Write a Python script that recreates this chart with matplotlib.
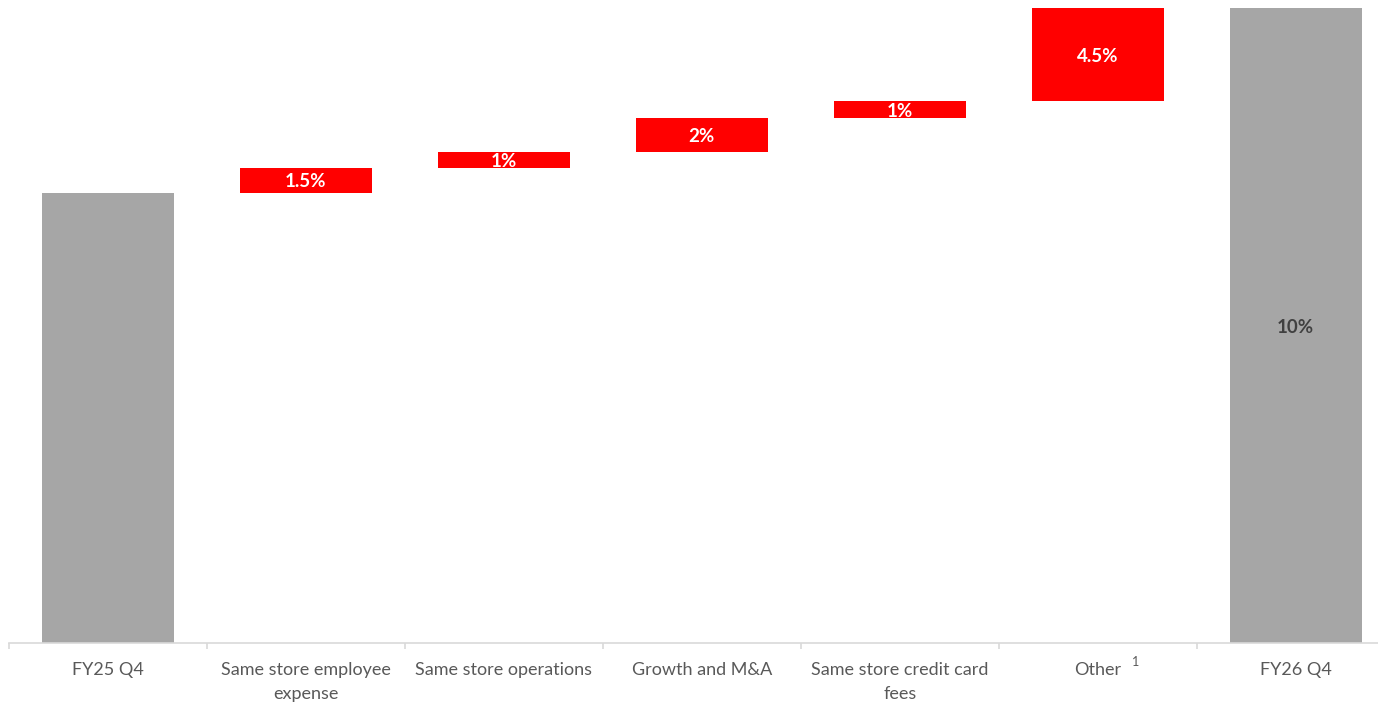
import matplotlib.pyplot as plt
import numpy as np
from matplotlib import transforms

# Waterfall data (heights, FY26 Q4 = 10)
categories = ["FY25 Q4", "Same store employee\nexpense", "Same store operations",
              "Growth and M&A", "Same store credit card\nfees", "Other", "FY26 Q4"]
start_value = 7.09
steps = [0.39, 0.25, 0.53, 0.27, 1.47]
end_value = 10.0
step_labels = ["1.5%", "1%", "2%", "1%", "4.5%"]
end_label = "10%"

GREY = "#a6a6a6"
RED = "#ff0000"
AXIS = "#d9d9d9"
TEXT = "#595959"

plt.rcParams['font.family'] = ['Lato', 'DejaVu Sans']

fig = plt.figure(figsize=(13.78, 7.06), dpi=100)
ax = fig.add_axes([9 / 1378, 63 / 706, 1385.6 / 1378, 635 / 706])

x = np.arange(len(categories))
width = 0.667

# Totals
ax.bar(x[0], start_value, width=width, color=GREY)
ax.bar(x[-1], end_value, width=width, color=GREY)

# Steps
bottoms = start_value + np.concatenate([[0], np.cumsum(steps)[:-1]])
ax.bar(x[1:-1], steps, bottom=bottoms, width=width, color=RED)
for xi, b, h, lab in zip(x[1:-1], bottoms, steps, step_labels):
    ax.text(xi, b + h / 2, lab, ha='center', va='center_baseline', color='white',
            fontsize=13.5, fontweight='bold')

ax.text(x[-1], end_value / 2, end_label, ha='center', va='center_baseline',
        color="#404040", fontsize=13.5, fontweight='bold')

ax.set_xlim(-0.5, len(categories) - 0.5)
ax.set_ylim(0, 10)

for s in ['top', 'right', 'left']:
    ax.spines[s].set_visible(False)
ax.spines['bottom'].set_color(AXIS)
ax.spines['bottom'].set_linewidth(1.2)
ax.set_yticks([])

ax.set_xticks(x)
ax.set_xticklabels(categories, fontsize=13, color=TEXT, linespacing=1.55)
ax.tick_params(axis='x', length=0, pad=14)
ax.set_xticks(np.arange(-0.5, len(categories), 1), minor=True)
ax.tick_params(axis='x', which='minor', length=4.5, color=AXIS, width=1.2)

# footnote marker next to "Other"
trans = transforms.blended_transform_factory(ax.transData, ax.transAxes)
ax.text(5.19, -0.03, "1", transform=trans, ha='center', va='center',
        fontsize=9, color=TEXT)

fig.savefig("out.png", dpi=100)
